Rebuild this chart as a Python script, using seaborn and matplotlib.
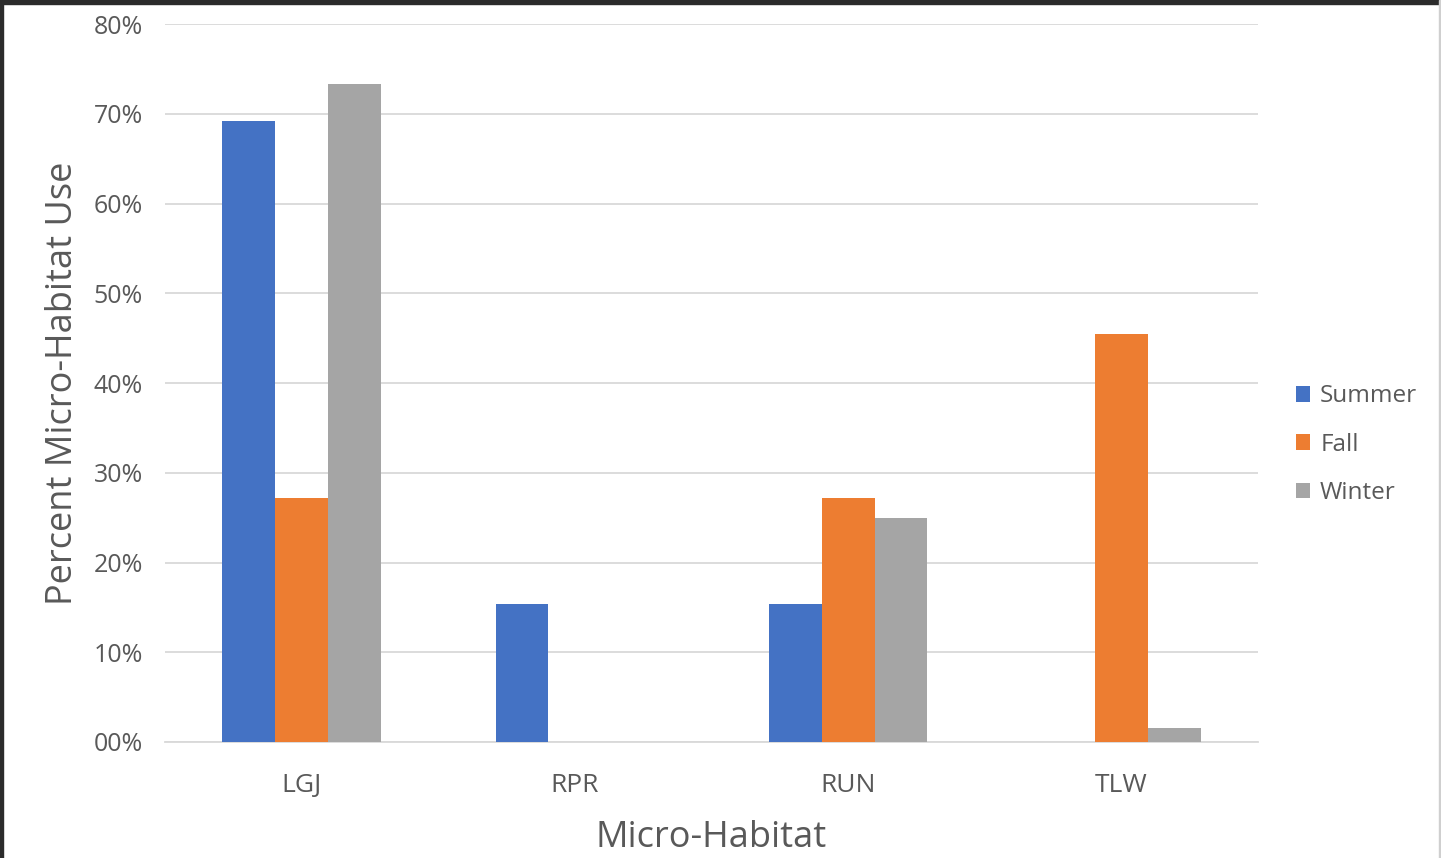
import matplotlib
matplotlib.use("Agg")
import matplotlib.pyplot as plt
from matplotlib.patches import Rectangle
import seaborn as sns
import pandas as pd

habitats = ["LGJ", "RPR", "RUN", "TLW"]
seasons = ["Summer", "Fall", "Winter"]
summer = [0.692, 0.154, 0.154, 0.0]
fall = [0.272, 0.0, 0.272, 0.455]
winter = [0.733, 0.0, 0.250, 0.016]
ytick_vals = [0.0, 0.1, 0.2, 0.3, 0.4, 0.5, 0.6, 0.7, 0.8]
ytick_labels = ["00%", "10%", "20%", "30%", "40%", "50%", "60%", "70%", "80%"]
colors = ["#4472C4", "#ED7D31", "#A5A5A5"]

rows = []
for season, vals in zip(seasons, [summer, fall, winter]):
    for h, v in zip(habitats, vals):
        rows.append({"Micro-Habitat": h, "Season": season, "Use": v})
df = pd.DataFrame(rows)

sns.set_theme(style="white")
plt.rcParams["font.family"] = ["Open Sans", "DejaVu Sans"]
text_color = "#595959"

fig = plt.figure(figsize=(14.41, 8.58), dpi=100)
ax = fig.add_axes([0.1145, 0.1352, 0.7585, 0.8368])

sns.barplot(data=df, x="Micro-Habitat", y="Use", hue="Season",
            hue_order=seasons, order=habitats, palette=colors,
            width=0.58, saturation=1, ax=ax, errorbar=None,
            linewidth=0, zorder=3)

ax.set_xlim(-0.5, 3.5)
ax.set_ylim(0, 0.8)
ax.set_yticks(ytick_vals)
ax.set_yticklabels(ytick_labels)
ax.yaxis.grid(True, color="#d9d9d9", linewidth=1.3, zorder=0)
ax.set_axisbelow(True)
for s in ["top", "right", "left"]:
    ax.spines[s].set_visible(False)
ax.spines["bottom"].set_color("#d9d9d9")
ax.spines["bottom"].set_linewidth(1.3)
ax.tick_params(axis="both", length=0, colors=text_color)
ax.tick_params(axis="y", pad=16, labelsize=18)
ax.tick_params(axis="x", pad=22, labelsize=19)
ax.set_ylabel("Percent Micro-Habitat Use", fontsize=26, color=text_color, labelpad=9)
ax.set_xlabel("Micro-Habitat", fontsize=26, color=text_color, labelpad=16)

leg = ax.legend(loc="center left", bbox_to_anchor=(1.0146, 0.414), frameon=False,
                fontsize=17.5, handlelength=0.6, handleheight=0.6,
                handletextpad=0.4, labelspacing=1.0)
for t in leg.get_texts():
    t.set_color(text_color)

# window frame around the chart
fig.patches.append(Rectangle((0, 1 - 4 / 858), 1, 4 / 858, transform=fig.transFigure,
                             color="#2b2b2b", zorder=10))
fig.patches.append(Rectangle((0, 0), 3 / 1441, 1, transform=fig.transFigure,
                             color="#2b2b2b", zorder=10))
fig.patches.append(Rectangle((1 - 2 / 1441, 0), 2 / 1441, 1, transform=fig.transFigure,
                             color="#cfcfcf", zorder=10))

fig.savefig("out.png", dpi=100)
